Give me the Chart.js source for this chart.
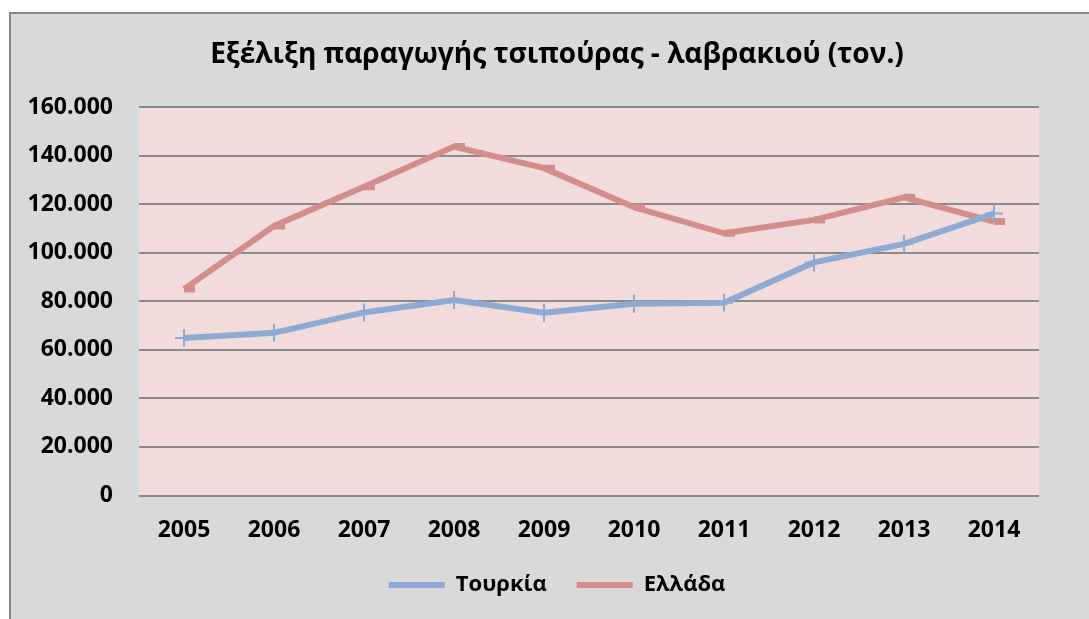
<!DOCTYPE html>
<html>
<head>
<meta charset="utf-8">
<script src="https://cdn.jsdelivr.net/npm/chart.js@4/dist/chart.umd.min.js"></script>
<style>
    html, body { margin: 0; padding: 0; background: #ffffff; overflow: hidden; }
    #wrap { width: 1089px; height: 619px; overflow: hidden; }
</style>
</head>
<body>
<div id="wrap"><canvas id="chart" width="1104" height="619"></canvas></div>
<script>
// Chart data
const years = ['2005', '2006', '2007', '2008', '2009', '2010', '2011', '2012', '2013', '2014'];
const turkey = [64900, 67000, 75400, 80500, 75300, 79000, 79400, 96000, 103600, 116100];
const greece = [85000, 111000, 127200, 143700, 134800, 118700, 108000, 113500, 122800, 112800];
const yTicks = [0, 20000, 40000, 60000, 80000, 100000, 120000, 140000, 160000];
const seriesNames = ['Τουρκία', 'Ελλάδα'];
const chartTitle = 'Εξέλιξη παραγωγής τσιπούρας - λαβρακιού (τον.)';

const FONT = '"Open Sans", "DejaVu Sans", sans-serif';
const BLUE = '#8eaad2';
const RED = '#d38e8c';

function formatThousands(v) {
    // 160000 -> 160.000
    return String(v).replace(/\B(?=(\d{3})+(?!\d))/g, '.');
}

// Paints the grey frame and the pink plot area
const backgroundPlugin = {
    id: 'background',
    beforeDraw(chart) {
        const ctx = chart.ctx;
        const area = chart.chartArea;
        ctx.save();
        ctx.fillStyle = '#ffffff';
        ctx.fillRect(0, 0, chart.width, chart.height);
        ctx.fillStyle = '#d9d9d9';
        ctx.fillRect(10, 13, chart.width, chart.height);
        ctx.strokeStyle = '#878787';
        ctx.lineWidth = 2;
        ctx.strokeRect(10, 13, chart.width + 20, chart.height + 20);
        ctx.fillStyle = '#f2dcdb';
        ctx.fillRect(area.left, area.top, area.right - area.left, area.bottom - area.top);
        ctx.restore();
    }
};

new Chart(document.getElementById('chart'), {
    type: 'line',
    data: {
        labels: years,
        datasets: [{
            label: seriesNames[0],
            data: turkey,
            borderColor: BLUE,
            backgroundColor: BLUE,
            borderWidth: 6,
            tension: 0,
            pointStyle: 'cross',
            pointRadius: 9,
            pointBorderWidth: 2,
            pointBorderColor: BLUE
        }, {
            label: seriesNames[1],
            data: greece,
            borderColor: RED,
            backgroundColor: RED,
            borderWidth: 6,
            tension: 0,
            pointStyle: 'dash',
            pointRadius: 11,
            pointBorderWidth: 7,
            pointBorderColor: RED
        }]
    },
    options: {
        responsive: false,
        animation: false,
        layout: {
            padding: { top: 0, left: 10, right: 0, bottom: 13 }
        },
        plugins: {
            title: {
                display: true,
                text: chartTitle,
                color: '#000000',
                font: { family: FONT, size: 28, weight: 'bold' },
                padding: { top: 38.2, bottom: 35.2 }
            },
            legend: {
                position: 'bottom',
                labels: {
                    color: '#000000',
                    font: { family: FONT, size: 22, weight: 'bold' },
                    boxWidth: 56,
                    boxHeight: 6,
                    padding: 30,
                    useBorderRadius: true,
                    borderRadius: 3,
                    generateLabels(chart) {
                        return chart.data.datasets.map((ds, i) => ({
                            text: ds.label,
                            fillStyle: ds.borderColor,
                            strokeStyle: ds.borderColor,
                            lineWidth: 0,
                            fontColor: '#000000',
                            hidden: false,
                            datasetIndex: i
                        }));
                    }
                }
            },
            tooltip: { enabled: false }
        },
        scales: {
            x: {
                offset: true,
                grid: { display: false, drawTicks: false },
                border: { display: false },
                ticks: {
                    color: '#000000',
                    padding: 21,
                    font: { family: FONT, size: 23, weight: 'bold' }
                },
                afterFit(scale) { scale.height = 48.5; }
            },
            y: {
                min: 0,
                max: 160000,
                grid: { color: '#8a8a8a', lineWidth: 2, drawTicks: false },
                border: { display: false },
                afterBuildTicks(scale) {
                    scale.ticks = yTicks.map(v => ({ value: v }));
                },
                ticks: {
                    color: '#000000',
                    padding: 26,
                    font: { family: FONT, size: 23, weight: 'bold' },
                    callback: v => formatThousands(v)
                },
                afterFit(scale) { scale.width = 129; }
            },
            // empty right-hand spacer so the title and legend centre like the original
            spacer: {
                type: 'linear',
                position: 'right',
                grid: { display: false, drawTicks: false },
                border: { display: false },
                ticks: { display: false },
                afterFit(scale) { scale.width = 65; }
            }
        }
    },
    plugins: [backgroundPlugin]
});
</script>
</body>
</html>
